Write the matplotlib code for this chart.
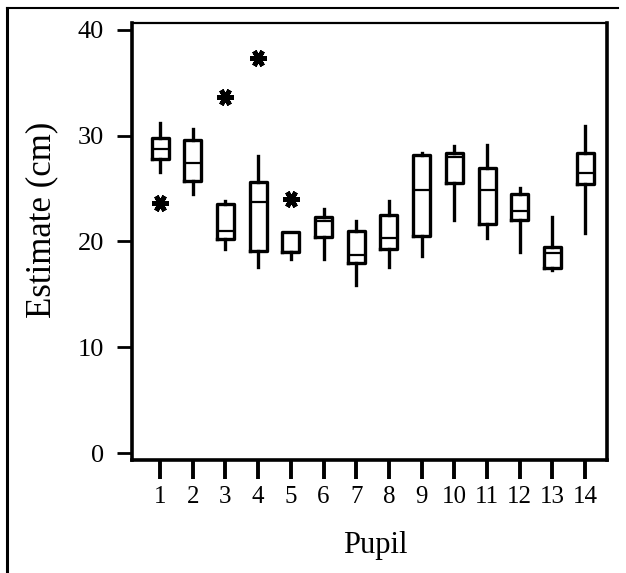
import matplotlib
matplotlib.use("Agg")
import matplotlib.pyplot as plt
from matplotlib.lines import Line2D

# ── Data (cm) ────────────────────────────────────────────────────────────────
pupils   = [1, 2, 3, 4, 5, 6, 7, 8, 9, 10, 11, 12, 13, 14]
whislo   = [26.6, 24.5, 19.3, 17.6, 18.3, 18.3, 15.9, 17.6, 18.6, 22.0, 20.3, 19.0, 17.3, 20.8]
q1       = [27.8, 25.7, 20.2, 19.1, 19.0, 20.4, 18.0, 19.3, 20.5, 25.5, 21.7, 22.0, 17.5, 25.4]
medians  = [28.7, 27.4, 21.0, 23.7, 19.0, 21.9, 18.7, 20.3, 24.9, 28.0, 24.9, 22.9, 18.9, 26.5]
q3       = [29.8, 29.6, 23.5, 25.6, 20.9, 22.3, 21.0, 22.5, 28.2, 28.4, 26.9, 24.5, 19.5, 28.4]
whishi   = [31.2, 30.6, 23.8, 28.1, 20.9, 23.1, 21.9, 23.8, 28.4, 29.0, 29.1, 25.1, 22.3, 30.9]
outliers = [[23.6], [], [33.7], [37.3], [24.0], [], [], [], [], [], [], [], [], []]

plt.rcParams["font.family"] = ["Liberation Serif", "DejaVu Serif"]

fig = plt.figure(figsize=(6.26, 5.73), dpi=100)
ax = fig.add_axes([132 / 626, 1 - 460 / 573, 475 / 626, 437 / 573])

stats = []
for i in range(len(pupils)):
    stats.append({"whislo": whislo[i], "q1": q1[i], "med": medians[i],
                  "q3": q3[i], "whishi": whishi[i], "fliers": outliers[i]})

ax.bxp(stats, positions=pupils, widths=0.52, showcaps=False,
       boxprops=dict(color="black", lw=2.4),
       whiskerprops=dict(color="black", lw=2.4),
       medianprops=dict(color="black", lw=1.6),
       flierprops=dict(marker=(6, 2, 90), markersize=12, markeredgewidth=3.4,
                       markeredgecolor="black", markerfacecolor="black"))

ax.set_xlim(0.14, 14.67)
ax.set_ylim(-0.65, 40.65)
ax.set_yticks([0, 10, 20, 30, 40])
ax.set_xticks(pupils)
ax.set_xticklabels([str(p) for p in pupils])

ax.tick_params(axis="y", direction="out", length=11, width=2, pad=9, labelsize=19)
ax.tick_params(axis="x", direction="out", length=14, width=2.8, pad=5, labelsize=18)

for side in ["left", "bottom", "right"]:
    ax.spines[side].set_linewidth(2.6)
ax.spines["top"].set_linewidth(1.6)

fig.text(42 / 626, 1 - 220 / 573, "Estimate (cm)", rotation=90,
         ha="center", va="center", fontsize=25)
fig.text(375 / 626, 1 - 545 / 573, "Pupil", ha="center", va="center", fontsize=22)

# scanned frame around the figure (left and top edges)
fig.add_artist(Line2D([7 / 626, 7 / 626], [0, 1 - 8 / 573], color="black", lw=2.2,
                      transform=fig.transFigure))
fig.add_artist(Line2D([7 / 626, 618 / 626], [1 - 8 / 573, 1 - 8 / 573], color="black",
                      lw=1.5, transform=fig.transFigure))

fig.savefig("out.png", dpi=100)
